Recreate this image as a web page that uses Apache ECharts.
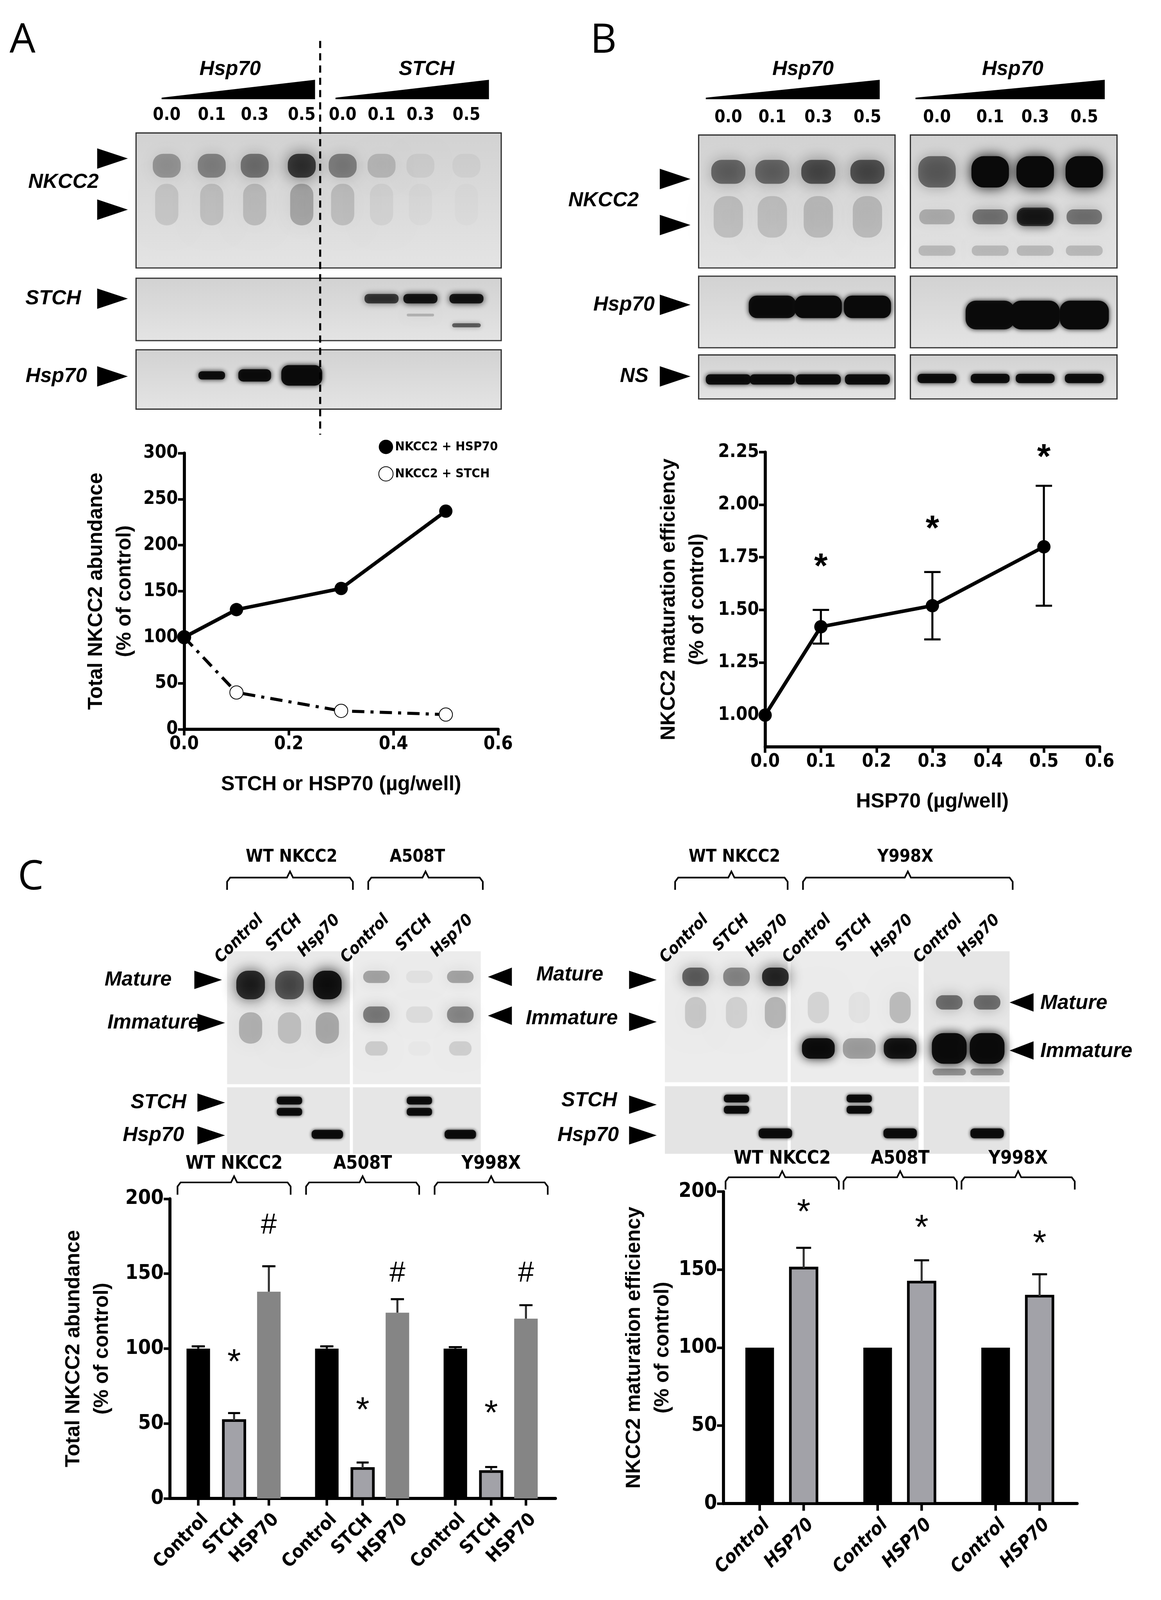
<!DOCTYPE html>
<html><head><meta charset="utf-8">
<script src="https://cdn.jsdelivr.net/npm/echarts@6/dist/echarts.min.js"></script>
<style>html,body{margin:0;padding:0;background:#fff}#c{width:2972px;height:4108px}</style>
</head><body><div id="c"></div>
<script>
const S = 2972/1135; const k = v => v*S;
// ---------- data ----------
const doseA = [0, 0.1, 0.3, 0.5];
const hsp70A = [100, 130, 153, 237];
const stchA = [100, 40, 20, 16];
const doseB = [0, 0.1, 0.3, 0.5];
const effB = [1.00, 1.42, 1.52, 1.80];
const errLoB = [1.00, 1.34, 1.36, 1.52];
const errHiB = [1.00, 1.50, 1.68, 2.09];
const starValB = [null, 1.70, 1.88, 2.22];
const groupsC = ['WT NKCC2', 'A508T', 'Y998X'];
const ctrlC = [100, 100, 100];
const ctrlErrC = [101.5, 101.5, 101];
const stchC = [52, 20, 18];
const stchErrC = [57, 24, 21];
const hspC = [138, 124, 120];
const hspErrC = [155, 133, 129];
const ctrlD = [100, 100, 100];
const hspD = [151, 142, 133];
const hspErrD = [164, 156, 147];
const yTicksB = [1.00, 1.25, 1.50, 1.75, 2.00, 2.25];

const NARROW = "'DejaVu Sans Condensed','Liberation Sans Narrow',sans-serif";
const SANS = "'Liberation Sans',Arial,sans-serif";

// ---------- graphic (blots, labels) ----------
const G = [];
function txt(t, x, y, size, opt) {
  opt = opt || {};
  G.push({type:'text', x:k(x), y:k(y), rotation: opt.rot || 0, z: 10, scaleX: opt.sx || 1, style:{text:t, fontSize:k(size),
    fontWeight: opt.w || 'bold', fontStyle: opt.i ? 'italic' : 'normal', fontFamily: opt.f || SANS,
    fill:'#000', textAlign: opt.a || 'center', textVerticalAlign:'middle'}});
}
function box(x1, y1, x2, y2, bg, stroke) {
  G.push({type:'rect', z:1, shape:{x:k(x1), y:k(y1), width:k(x2-x1), height:k(y2-y1)},
    style:{fill: bg || new echarts.graphic.LinearGradient(0,0,0,1,[{offset:0,color:'#d2d2d2'},{offset:1,color:'#e4e4e4'}]),
      stroke: stroke === false ? null : '#333', lineWidth:k(1.2)}});
}
function band(cx, cy, w, h, a, blur) {
  const b = blur==null?5:blur;
  G.push({type:'rect', z:2, shape:{x:k(cx-w/2+b/3), y:k(cy-h/2+b/3), width:k(Math.max(w-b*2/3,2)), height:k(Math.max(h-b*2/3,2)), r:k(Math.min(w,h)/3)},
    style:{fill:'rgba(10,10,10,'+a+')', shadowBlur:k(b*1.6), shadowColor:'rgba(10,10,10,'+Math.min(1,a*1.1)+')'}});
}
function arrR(x, y, s) { s = s||1; G.push({type:'polygon', z:10, shape:{points:[[k(x),k(y-10*s)],[k(x+30*s),k(y)],[k(x),k(y+10*s)]]}, style:{fill:'#000'}}); }
function arrL(x, y, s) { s = s||1; G.push({type:'polygon', z:10, shape:{points:[[k(x+26*s),k(y-10*s)],[k(x),k(y)],[k(x+26*s),k(y+10*s)]]}, style:{fill:'#000'}}); }
function wedge(x1, x2, yt, yb) { G.push({type:'polygon', z:10, shape:{points:[[k(x1),k(yb)],[k(x1),k(yb-1.5)],[k(x2),k(yt)],[k(x2),k(yb)]]}, style:{fill:'#000'}}); }
function brk(x1, x2, y) {
  const m=(x1+x2)/2;
  G.push({type:'polyline', z:10, shape:{points:[[k(x1),k(y+12)],[k(x1),k(y+4)],[k(x1+3),k(y)],[k(m-3),k(y)],[k(m),k(y-6)],[k(m+3),k(y)],[k(x2-3),k(y)],[k(x2),k(y+4)],[k(x2),k(y+12)]]},
    style:{stroke:'#000', lineWidth:k(1.6), fill:null}});
}

// Panel letters
txt('A', 22, 40, 40, {w:'normal', f:"'Open Sans',sans-serif"});
txt('B', 590, 40, 40, {w:'normal', f:"'Open Sans',sans-serif"});
txt('C', 30, 858, 40, {w:'normal', f:"'Open Sans',sans-serif"});

// Panel A blots
const laneA = [163, 207, 249, 295, 335, 373, 411, 456];
const laneNum = ['0.0','0.1','0.3','0.5','0.0','0.1','0.3','0.5'];
txt('Hsp70', 225, 68, 20, {i:true}); wedge(158, 308, 78, 97);
txt('STCH', 417, 68, 20, {i:true}); wedge(328, 478, 78, 97);
laneA.forEach((x,i)=>txt(laneNum[i], x, 113, 17, {f:NARROW}));
box(133,130,490,262);
const smearA = [0.3, 0.38, 0.45, 0.72, 0.4, 0.16, 0.06, 0.04];
laneA.forEach((x,i)=>{ band(x, 162, 34, 30, smearA[i], 10); band(x, 200, 32, 50, smearA[i]*0.35, 14); });
box(133,272,490,333);
[[373,0.7],[411,0.9],[456,0.9]].forEach(([x,a])=>{ band(x, 292, 36, 12, a, 4); });
band(456, 318, 30, 6, 0.55, 3); band(411, 308, 30, 6, 0.2, 5);
box(133,342,490,400);
[[207,28,10],[249,34,14],[295,42,22]].forEach(([x,w,h])=>band(x, 367, w, h, 0.95, 3));
txt('NKCC2', 62, 178, 20, {i:true}); arrR(95,155); arrR(95,205);
txt('STCH', 52, 292, 20, {i:true}); arrR(95,292);
txt('Hsp70', 55, 368, 20, {i:true}); arrR(95,368);
G.push({type:'line', z:11, shape:{x1:k(313), y1:k(40), x2:k(313), y2:k(425)}, style:{stroke:'#000', lineWidth:k(2), lineDash:[k(7),k(5)]}});

// Panel B blots
const laneB1 = [712, 755, 800, 848], laneB2 = [916, 968, 1012, 1060];
txt('Hsp70', 785, 68, 20, {i:true}); wedge(690, 860, 78, 97);
txt('Hsp70', 990, 68, 20, {i:true}); wedge(895, 1080, 78, 97);
['0.0','0.1','0.3','0.5'].forEach((t,i)=>{ txt(t, laneB1[i], 115, 17, {f:NARROW}); txt(t, laneB2[i], 115, 17, {f:NARROW}); });
box(683,132,875,262); box(890,132,1092,262);
[0.5,0.5,0.6,0.6].forEach((a,i)=>{ band(laneB1[i], 168, 40, 30, a, 10); band(laneB1[i], 212, 38, 50, a*0.28, 14); });
[0.5,1,1,1].forEach((a,i)=>{ band(laneB2[i], 168, 42, 36, a, 8); band(laneB2[i], 212, 40, 20, a*0.45, 8); band(laneB2[i], 245, 40, 14, 0.18, 6); });
band(1012, 212, 40, 22, 0.75, 6);
box(683,270,875,340); box(890,270,1092,340);
[[755,0.95],[800,1],[848,1]].forEach(([x,a])=>band(x, 300, 48, 24, a, 3));
[[968,0.95],[1012,1],[1060,1]].forEach(([x,a])=>band(x, 308, 50, 30, a, 3));
box(683,347,875,390); box(890,347,1092,390);
laneB1.forEach(x=>band(x, 371, 46, 12, 0.95, 3));
laneB2.forEach(x=>band(x, 370, 40, 11, 0.95, 3));
txt('NKCC2', 590, 196, 20, {i:true}); arrR(645,175); arrR(645,220);
txt('Hsp70', 610, 298, 20, {i:true}); arrR(645,298);
txt('NS', 620, 368, 20, {i:true}); arrR(645,368);

// Panel C blots (left)
txt('WT NKCC2', 285, 838, 17, {f:NARROW}); brk(222, 345, 858);
txt('A508T', 408, 838, 17, {f:NARROW}); brk(360, 472, 858);
const laneCL = [[245,'Control'],[283,'STCH'],[320,'Hsp70'],[368,'Control'],[410,'STCH'],[450,'Hsp70']];
laneCL.forEach(([x,t])=>txt(t, x+10, 897, 16, {i:true, a:'right', rot:Math.PI/4, f:NARROW}));
box(222,930,342,1060,'#e9e9e9',false); box(345,930,470,1060,'#ececec',false);
[[245,0.8],[283,0.6],[320,0.92]].forEach(([x,a])=>{ band(x, 963, 34, 34, a, 9); band(x, 1005, 32, 40, a*0.3, 14); });
[[368,0.3,0.45],[410,0.05,0.07],[450,0.3,0.4]].forEach(([x,a,b])=>{ band(x, 955, 32, 18, a, 9); band(x, 992, 32, 22, b, 9); band(x,1025,28,20,b*0.3,9); });
box(222,1063,342,1128,'#e6e6e6',false); box(345,1063,470,1128,'#e6e6e6',false);
[283,410].forEach(x=>{ band(x, 1076, 26, 9, 0.95, 2); band(x, 1087, 26, 9, 0.95, 2); });
[320,450].forEach(x=>band(x, 1109, 32, 10, 0.95, 2));
txt('Mature', 135, 958, 20, {i:true}); arrR(190,958,0.9);
txt('Immature', 150, 1000, 20, {i:true}); arrR(193,1000,0.9);
txt('STCH', 155, 1078, 20, {i:true}); arrR(193,1078,0.9);
txt('Hsp70', 150, 1110, 20, {i:true}); arrR(193,1110,0.9);
arrL(477,955,0.9); arrL(477,993,0.9);
// right blots
txt('WT NKCC2', 718, 838, 17, {f:NARROW}); brk(660, 770, 858);
txt('Y998X', 885, 838, 17, {f:NARROW}); brk(785, 990, 858);
const laneCR = [[680,'Control'],[720,'STCH'],[758,'Hsp70'],[800,'Control'],[840,'STCH'],[880,'Hsp70'],[928,'Control'],[965,'Hsp70']];
laneCR.forEach(([x,t])=>txt(t, x+10, 897, 16, {i:true, a:'right', rot:Math.PI/4, f:NARROW}));
box(650,930,770,1058,'#ececec',false); box(773,930,898,1058,'#ececec',false); box(903,930,987,1058,'#e6e6e6',false);
[[680,0.55],[720,0.4],[758,0.8]].forEach(([x,a])=>{ band(x, 955, 32, 24, a, 9); band(x, 990, 30, 40, a*0.28, 14); });
[[800,0.95,0.1],[840,0.3,0.04],[880,0.9,0.2]].forEach(([x,a,b])=>{ band(x, 1025, 36, 24, a, 6); band(x, 985, 30, 40, b, 14); });
[928,965].forEach(x=>{ band(x, 980, 32, 20, 0.5, 9); band(x, 1025, 38, 34, 0.98, 6); band(x,1048,36,10,0.35,5); });
box(650,1062,770,1128,'#e4e4e4',false); box(773,1062,898,1128,'#e4e4e4',false); box(903,1062,987,1128,'#e4e4e4',false);
[720,840].forEach(x=>{ band(x, 1074, 26, 9, 0.95, 2); band(x, 1085, 26, 9, 0.95, 2); });
[758,880,965].forEach(x=>band(x, 1108, 34, 11, 0.95, 2));
txt('Mature', 557, 953, 20, {i:true}); arrR(615,958,0.9);
txt('Immature', 559, 996, 20, {i:true}); arrR(615,999,0.9);
txt('STCH', 576, 1076, 20, {i:true}); arrR(615,1080,0.9);
txt('Hsp70', 575, 1110, 20, {i:true}); arrR(615,1110,0.9);
arrL(987,980,0.9); txt('Mature', 1017, 981, 20, {i:true, a:'left'});
arrL(987,1027,0.9); txt('Immature', 1017, 1028, 20, {i:true, a:'left'});

// ---------- chart helpers ----------
const axisCommon = {
  axisLine:{show:true, lineStyle:{color:'#000', width:k(3)}},
  axisTick:{show:true, length:k(6), lineStyle:{color:'#000', width:k(2.5)}},
  axisLabel:{color:'#000', fontSize:k(18), fontWeight:'bold', fontFamily:NARROW, margin:k(6)},
  splitLine:{show:false}
};
function ax(o){ return Object.assign({}, JSON.parse(JSON.stringify(axisCommon)), o); }
const nameStyle = {color:'#000', fontSize:k(20), fontWeight:'bold', fontFamily:SANS, lineHeight:k(28)};

function groupedBars(xi, yi, vals, errs, marks, markVals, labels, offset, width, fill, stroke, italic) {
  return {type:'custom', xAxisIndex:xi, yAxisIndex:yi, clip:false, z:5,
    data: vals.map((v,i)=>[i, v, errs ? errs[i] : v, markVals ? markVals[i] : 0]),
    renderItem:(p, api)=>{
      const i = api.value(0), v = api.value(1), e = api.value(2), mv = api.value(3);
      const b = api.coord([i, 0]), t = api.coord([i, v]), et = api.coord([i, e]);
      const cx = b[0] + k(offset), w = k(width);
      const ch = [{type:'rect', shape:{x:cx-w/2, y:t[1], width:w, height:b[1]-t[1]},
        style:{fill:fill, stroke: stroke ? '#000' : null, lineWidth:k(2.6)}}];
      if (errs && e > v) {
        ch.push({type:'line', shape:{x1:cx, y1:t[1], x2:cx, y2:et[1]}, style:{stroke:fill === '#000' ? '#000' : '#333', lineWidth:k(2)}});
        ch.push({type:'line', shape:{x1:cx-w*0.28, y1:et[1], x2:cx+w*0.28, y2:et[1]}, style:{stroke:'#000', lineWidth:k(2)}});
      }
      if (marks) { const m = api.coord([i, mv]); ch.push({type:'text', x:cx, y:m[1], style:{text:marks, fontSize:k(marks==='#'?28:34), fontFamily:SANS, fill:'#000', textAlign:'center', textVerticalAlign:'middle'}}); }
      ch.push({type:'line', shape:{x1:cx, y1:b[1], x2:cx, y2:b[1]+k(7)}, style:{stroke:'#000', lineWidth:k(2.5)}});
      ch.push({type:'text', x:cx+k(7), y:b[1]+k(18), rotation:Math.PI/4, style:{text:labels, fontSize:k(18), fontWeight:'bold', fontStyle:italic?'italic':'normal', fontFamily:NARROW, fill:'#000', textAlign:'right', textVerticalAlign:'middle'}});
      return {type:'group', children:ch};
    }};
}
function headers(xi, yi, top, frac, dy) {
  return {type:'custom', xAxisIndex:xi, yAxisIndex:yi, clip:false, z:5,
    data: groupsC.map((g,i)=>[i, top]),
    renderItem:(p, api)=>{
      const i = api.value(0); const c = api.coord([i, api.value(1)]); const w = api.size([1,0])[0]*frac;
      const y = c[1] - k(dy), x1 = c[0]-w/2, x2 = c[0]+w/2, m = c[0];
      return {type:'group', children:[
        {type:'polyline', shape:{points:[[x1,y+k(12)],[x1,y+k(4)],[x1+k(3),y],[m-k(3),y],[m,y-k(6)],[m+k(3),y],[x2-k(3),y],[x2,y+k(4)],[x2,y+k(12)]]}, style:{stroke:'#000', lineWidth:k(1.6), fill:null}},
        {type:'text', x:m, y:y-k(18), style:{text:groupsC[i], fontSize:k(18), fontWeight:'bold', fontFamily:NARROW, fill:'#000', textAlign:'center', textVerticalAlign:'middle'}}
      ]};
    }};
}

const option = {
  animation:false, backgroundColor:'#fff',
  graphic: G,
  legend:{left:k(368), top:k(428), orient:'vertical', itemGap:k(12), itemWidth:k(14), itemHeight:k(14),
    textStyle:{fontSize:k(12.5), fontWeight:'bold', fontFamily:NARROW, color:'#000'},
    data:[{name:'NKCC2 + HSP70', icon:'circle'}, {name:'NKCC2 + STCH', icon:'emptyCircle'}]},
  grid:[
    {left:k(180), top:k(443), width:k(307), height:k(270)},
    {left:k(748), top:k(442), width:k(327), height:k(288)},
    {left:k(166), top:k(1172), width:k(377), height:k(293)},
    {left:k(707), top:k(1165), width:k(346), height:k(305)}
  ],
  xAxis:[
    ax({type:'value', gridIndex:0, min:0, max:0.6, interval:0.2, name:'STCH or HSP70 (µg/well)', nameLocation:'middle', nameGap:k(40), nameTextStyle:nameStyle,
      axisLabel:Object.assign({}, axisCommon.axisLabel, {formatter:v=>v.toFixed(1)})}),
    ax({type:'value', gridIndex:1, min:0, max:0.6, interval:0.1, name:'HSP70 (µg/well)', nameLocation:'middle', nameGap:k(40), nameTextStyle:nameStyle,
      axisLabel:Object.assign({}, axisCommon.axisLabel, {formatter:v=>v.toFixed(1)})}),
    ax({type:'category', gridIndex:2, data:groupsC, axisTick:{show:false}, axisLabel:{show:false}}),
    ax({type:'category', gridIndex:3, data:groupsC, axisTick:{show:false}, axisLabel:{show:false}})
  ],
  yAxis:[
    ax({type:'value', gridIndex:0, min:0, max:300, interval:50, name:'Total NKCC2 abundance\n(% of control)', nameLocation:'middle', nameGap:k(44), nameTextStyle:nameStyle}),
    ax({type:'value', gridIndex:1, min:0.85, max:2.25, name:'NKCC2 maturation efficiency\n(% of control)', nameLocation:'middle', nameGap:k(52), nameTextStyle:nameStyle,
      axisTick:{show:true, length:k(6), lineStyle:{color:'#000', width:k(2.5)}, customValues:yTicksB},
      axisLabel:Object.assign({}, axisCommon.axisLabel, {customValues:yTicksB, formatter:v=>v.toFixed(2)})}),
    ax({type:'value', gridIndex:2, min:0, max:200, interval:50, name:'Total NKCC2 abundance\n(% of control)', nameLocation:'middle', nameGap:k(52), nameTextStyle:nameStyle,
      axisLabel:Object.assign({}, axisCommon.axisLabel, {fontSize:k(20)})}),
    ax({type:'value', gridIndex:3, min:0, max:200, interval:50, name:'NKCC2 maturation efficiency\n(% of control)', nameLocation:'middle', nameGap:k(42), nameTextStyle:nameStyle,
      axisLabel:Object.assign({}, axisCommon.axisLabel, {fontSize:k(20)})})
  ],
  series:[
    {name:'NKCC2 + HSP70', type:'line', xAxisIndex:0, yAxisIndex:0, data:doseA.map((d,i)=>[d, hsp70A[i]]),
      symbol:'circle', symbolSize:k(13), itemStyle:{color:'#000'}, lineStyle:{color:'#000', width:k(3.5)}, z:4},
    {name:'NKCC2 + STCH', type:'line', xAxisIndex:0, yAxisIndex:0, data:doseA.map((d,i)=>[d, stchA[i]]),
      symbol:'emptyCircle', symbolSize:k(13), itemStyle:{color:'#000', borderWidth:k(2)}, lineStyle:{color:'#000', width:k(3), type:[k(12),k(6),k(3),k(6)]}, z:3},
    {type:'line', xAxisIndex:1, yAxisIndex:1, data:doseB.map((d,i)=>[d, effB[i]]),
      symbol:'circle', symbolSize:k(13), itemStyle:{color:'#000'}, lineStyle:{color:'#000', width:k(3.5)}, z:4},
    {type:'custom', xAxisIndex:1, yAxisIndex:1, clip:false, z:3,
      data:doseB.map((d,i)=>[d, errLoB[i], errHiB[i], starValB[i] == null ? 0 : starValB[i]]),
      renderItem:(p, api)=>{
        const lo = api.coord([api.value(0), api.value(1)]), hi = api.coord([api.value(0), api.value(2)]);
        const ch = [];
        if (api.value(2) > api.value(1)) {
          const w = k(8);
          ch.push({type:'line', shape:{x1:lo[0], y1:lo[1], x2:hi[0], y2:hi[1]}, style:{stroke:'#000', lineWidth:k(2)}});
          ch.push({type:'line', shape:{x1:lo[0]-w, y1:lo[1], x2:lo[0]+w, y2:lo[1]}, style:{stroke:'#000', lineWidth:k(2)}});
          ch.push({type:'line', shape:{x1:hi[0]-w, y1:hi[1], x2:hi[0]+w, y2:hi[1]}, style:{stroke:'#000', lineWidth:k(2)}});
        }
        if (api.value(3) > 0) { const s = api.coord([api.value(0), api.value(3)]);
          ch.push({type:'text', x:s[0], y:s[1], style:{text:'*', fontSize:k(34), fontWeight:'bold', fontFamily:SANS, fill:'#000', textAlign:'center', textVerticalAlign:'middle'}}); }
        return {type:'group', children:ch};
      }},
    groupedBars(2, 2, ctrlC, ctrlErrC, null, null, 'Control', -35, 23, '#000', false, false),
    groupedBars(2, 2, stchC, stchErrC, '*', stchC.map(v=>v+38), 'STCH', 0, 21, '#a2a2a8', true, false),
    groupedBars(2, 2, hspC, hspErrC, '#', [182,150,150], 'HSP70', 34, 23, '#858585', false, false),
    headers(2, 2, 200, 0.88, 16),
    groupedBars(3, 3, ctrlD, null, null, null, 'Control', -22, 28, '#000', false, true),
    groupedBars(3, 3, hspD, hspErrD, '*', [186,176,166], 'HSP70', 21, 26, '#a2a2a8', true, true),
    headers(3, 3, 200, 0.96, 14)
  ]
};
const chart = echarts.init(document.getElementById('c'), null, {renderer:'canvas'});
chart.setOption(option);
</script></body></html>
